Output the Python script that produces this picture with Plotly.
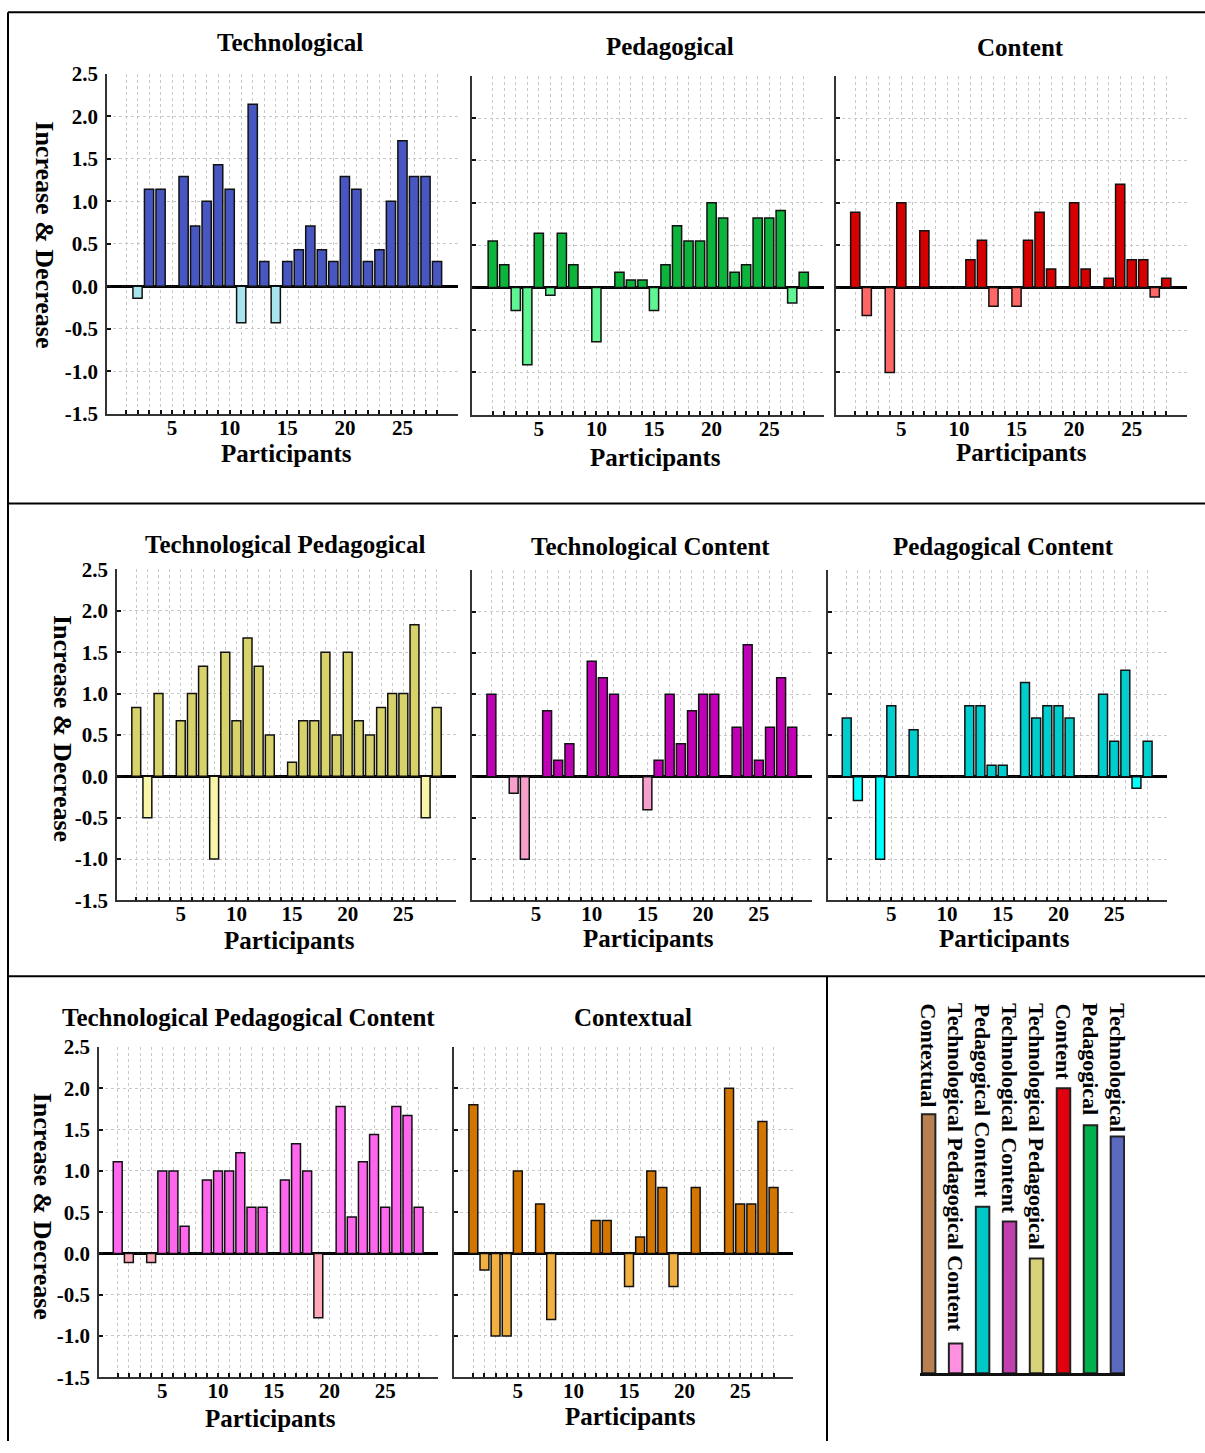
import plotly.graph_objects as go

W, H = 1205, 1453

participants = list(range(1, 29))
x_tick_labels = [str(p) if p % 5 == 0 else "" for p in participants]
y_tick_vals = [-1.5, -1.0, -0.5, 0.0, 0.5, 1.0, 1.5, 2.0, 2.5]
y_tick_text = ["-1.5", "-1.0", "-0.5", "0.0", "0.5", "1.0", "1.5", "2.0", "2.5"]

technological = [0, -0.14, 1.14, 1.14, 0, 1.29, 0.71, 1.0, 1.43, 1.14, -0.43, 2.14, 0.29, -0.43,
                 0.29, 0.43, 0.71, 0.43, 0.29, 1.29, 1.14, 0.29, 0.43, 1.0, 1.71, 1.29, 1.29, 0.29]
pedagogical = [0.55, 0.27, -0.27, -0.91, 0.64, -0.09, 0.64, 0.27, 0, -0.64, 0, 0.18, 0.09, 0.09,
               -0.27, 0.27, 0.73, 0.55, 0.55, 1.0, 0.82, 0.18, 0.27, 0.82, 0.82, 0.91, -0.18, 0.18]
content = [0.89, -0.33, 0, -1.0, 1.0, 0, 0.67, 0, 0, 0, 0.33, 0.56, -0.22, 0,
           -0.22, 0.56, 0.89, 0.22, 0, 1.0, 0.22, 0, 0.11, 1.22, 0.33, 0.33, -0.11, 0.11]
tech_ped = [0.83, -0.5, 1.0, 0, 0.67, 1.0, 1.33, -1.0, 1.5, 0.67, 1.67, 1.33, 0.5, 0,
            0.17, 0.67, 0.67, 1.5, 0.5, 1.5, 0.67, 0.5, 0.83, 1.0, 1.0, 1.83, -0.5, 0.83]
tech_content = [1.0, 0, -0.2, -1.0, 0, 0.8, 0.2, 0.4, 0, 1.4, 1.2, 1.0, 0, 0,
                -0.4, 0.2, 1.0, 0.4, 0.8, 1.0, 1.0, 0, 0.6, 1.6, 0.2, 0.6, 1.2, 0.6]
ped_content = [0.71, -0.29, 0, -1.0, 0.86, 0, 0.57, 0, 0, 0, 0, 0.86, 0.86, 0.14,
               0.14, 0, 1.14, 0.71, 0.86, 0.86, 0.71, 0, 0, 1.0, 0.43, 1.29, -0.14, 0.43]
tpc = [1.11, -0.11, 0, -0.11, 1.0, 1.0, 0.33, 0, 0.89, 1.0, 1.0, 1.22, 0.56, 0.56,
       0, 0.89, 1.33, 1.0, -0.78, 0, 1.78, 0.44, 1.11, 1.44, 0.56, 1.78, 1.67, 0.56]
contextual = [1.8, -0.2, -1.0, -1.0, 1.0, 0, 0.6, -0.8, 0, 0, 0, 0.4, 0.4, 0,
              -0.4, 0.2, 1.0, 0.8, -0.4, 0, 0.8, 0, 0, 2.0, 0.6, 0.6, 1.6, 0.8]

legend_categories = ["Technological", "Pedagogical", "Content", "Technological Pedagogical",
                     "Technological Content", "Pedagogical Content",
                     "Technological Pedagogical Content", "Contextual"]
legend_lengths = [0.64, 0.67, 0.77, 0.31, 0.41, 0.45, 0.08, 0.70]
legend_colors = ["#5B6AC0", "#00B04C", "#E0000E", "#D8D27A", "#C040B0", "#00C8C8", "#FF90E0", "#B88050"]

FONT = "Liberation Serif"

# (title, values, pos color, neg color, x0, x1, ytop, ybot, xmin, xmax, show y labels,
#  title xy, participants xy, ytitle xy)
panels = [
    ("Technological", technological, "#4756C0", "#A8E4EE", 107, 458, 71, 412, -0.65, 29.82, True, (290, 40), (286, 452), (45, 232)),
    ("Pedagogical", pedagogical, "#0DB43C", "#5EF592", 472, 824, 73, 413, -0.80, 29.76, False, (670, 44), (655, 456), None),
    ("Content", content, "#D60000", "#FF6666", 836, 1187, 73, 413, -0.67, 29.80, False, (1020, 45), (1021, 451), None),
    ("Technological Pedagogical", tech_ped, "#D8D26A", "#F8F4A8", 117, 456, 568, 900, -0.73, 29.73, True, (285, 543), (289, 940), (62, 727)),
    ("Technological Content", tech_content, "#C000B4", "#F7A0CC", 472, 812, 569, 900, -0.74, 29.77, False, (650, 545), (648, 938), None),
    ("Pedagogical Content", ped_content, "#00CDCD", "#00FFFF", 828, 1167, 569, 900, -0.68, 29.74, False, (1003, 545), (1004, 938), None),
    ("Technological Pedagogical Content", tpc, "#FF66EE", "#FFA8B8", 99, 438, 1047, 1378, -0.68, 29.74, True, (249, 1017), (270, 1419), (42, 1206)),
    ("Contextual", contextual, "#D47500", "#F2B040", 454, 793, 1047, 1378, -0.74, 29.75, False, (633, 1017), (630, 1417), None),
]

def px_x(p):
    return p / W

def px_y(p):
    # compensate for the vertical fit of the photographed page
    q = (p - 9.15) / 0.9861
    return 1 - q / H

fig = go.Figure()
annotations = []
layout_axes = {}

for i, (title, vals, cpos, cneg, x0, x1, yt, yb, xmin, xmax, ylab, tpos, ppos, ytp) in enumerate(panels):
    n = i + 1
    xa = "x" if n == 1 else f"x{n}"
    ya = "y" if n == 1 else f"y{n}"
    colors = [cpos if v > 0 else cneg for v in vals]
    fig.add_trace(go.Bar(
        x=participants, y=vals, xaxis=xa, yaxis=ya, width=0.8,
        marker=dict(color=colors, line=dict(color="#111111", width=1.5)),
        showlegend=False, hoverinfo="x+y",
    ))
    xkey = "xaxis" if n == 1 else f"xaxis{n}"
    ykey = "yaxis" if n == 1 else f"yaxis{n}"
    layout_axes[xkey] = dict(
        domain=[px_x(x0), px_x(x1)], anchor=ya, range=[xmin, xmax],
        tickmode="array", tickvals=participants, ticktext=x_tick_labels,
        ticks="inside", ticklen=4, tickwidth=1.5, tickcolor="#111111",
        showline=True, linecolor="#333333", linewidth=1.5,
        showgrid=True, gridcolor="#C8C8C8", griddash="dot", gridwidth=1,
        zeroline=False,
        tickfont=dict(family=FONT, size=21, color="black", weight="bold"),
        ticklabelstandoff=-6,
    )
    layout_axes[ykey] = dict(
        domain=[px_y(yb), px_y(yt)], anchor=xa, range=[-1.5, 2.5],
        tickmode="array", tickvals=y_tick_vals, ticktext=y_tick_text,
        showticklabels=ylab,
        ticks="inside", ticklen=4, tickwidth=1.5, tickcolor="#111111",
        showline=True, linecolor="#333333", linewidth=1.5,
        showgrid=True, gridcolor="#C8C8C8", griddash="dot", gridwidth=1,
        zeroline=True, zerolinecolor="black", zerolinewidth=2.5,
        tickfont=dict(family=FONT, size=21, color="black", weight="bold"),
        ticklabelstandoff=3,
    )
    annotations.append(dict(
        text=title, x=px_x(tpos[0]), y=px_y(tpos[1]), xref="paper", yref="paper",
        showarrow=False, xanchor="center", yanchor="middle",
        font=dict(family=FONT, size=25, color="black", weight="bold"),
    ))
    annotations.append(dict(
        text="Participants", x=px_x(ppos[0]), y=px_y(ppos[1]), xref="paper", yref="paper",
        showarrow=False, xanchor="center", yanchor="middle",
        font=dict(family=FONT, size=25, color="black", weight="bold"),
    ))
    if ytp is not None:
        annotations.append(dict(
            text="Increase & Decrease", x=px_x(ytp[0]), y=px_y(ytp[1]),
            xref="paper", yref="paper", showarrow=False, textangle=90,
            xanchor="center", yanchor="middle",
            font=dict(family=FONT, size=26, color="black", weight="bold"),
        ))

# Legend panel as a small bar chart
lx = list(range(len(legend_categories)))
fig.add_trace(go.Bar(
    x=lx, y=legend_lengths, xaxis="x9", yaxis="y9", width=0.5,
    marker=dict(color=legend_colors, line=dict(color="#222222", width=2)),
    showlegend=False, hovertext=legend_categories, hoverinfo="text",
))
layout_axes["xaxis9"] = dict(
    domain=[px_x(920), px_x(1125)], anchor="y9", range=[7.32, -0.28],
    showline=True, linecolor="#111111", linewidth=2.5, showgrid=False, zeroline=False,
    showticklabels=False, ticks="",
)
layout_axes["yaxis9"] = dict(
    domain=[px_y(1374), px_y(1003)], anchor="x9", range=[0, 1],
    showline=False, showgrid=False, zeroline=False, showticklabels=False, ticks="",
)
for i, cat in enumerate(legend_categories):
    annotations.append(dict(
        text=cat, x=i, y=px_y(1001), xref="x9", yref="paper", showarrow=False,
        textangle=90, xanchor="center", yanchor="top",
        font=dict(family=FONT, size=22, color="black", weight="bold"),
    ))

# Frame lines
line_style = dict(color="black", width=2)
shapes = [
    dict(type="line", xref="paper", yref="paper", x0=px_x(8), x1=1, y0=px_y(9.5), y1=px_y(9.5), line=line_style),
    dict(type="line", xref="paper", yref="paper", x0=px_x(8), x1=px_x(8), y0=px_y(9.5), y1=0, line=line_style),
    dict(type="line", xref="paper", yref="paper", x0=px_x(8), x1=1, y0=px_y(502), y1=px_y(502), line=line_style),
    dict(type="line", xref="paper", yref="paper", x0=px_x(8), x1=1, y0=px_y(976), y1=px_y(976), line=line_style),
    dict(type="line", xref="paper", yref="paper", x0=px_x(827), x1=px_x(827), y0=px_y(976), y1=0, line=line_style),
]

fig.update_layout(
    width=W, height=H, margin=dict(l=0, r=0, t=0, b=0),
    paper_bgcolor="white", plot_bgcolor="white",
    annotations=annotations, shapes=shapes, bargap=0.2,
    **layout_axes,
)

page_fix = (
    "var h=document.documentElement, b=document.body;"
    "h.style.margin='0'; h.style.padding='0'; h.style.overflow='hidden'; h.style.height='1453px';"
    "b.style.margin='0'; b.style.padding='0'; b.style.overflow='hidden'; b.style.height='1453px';"
    "var g=document.querySelector('.plotly-graph-div');"
    "if(g){g.style.position='fixed'; g.style.top='0px'; g.style.left='0px';}"
)

fig.write_html(
    "out.html",
    config={"displayModeBar": False},
    post_script=page_fix,
)
